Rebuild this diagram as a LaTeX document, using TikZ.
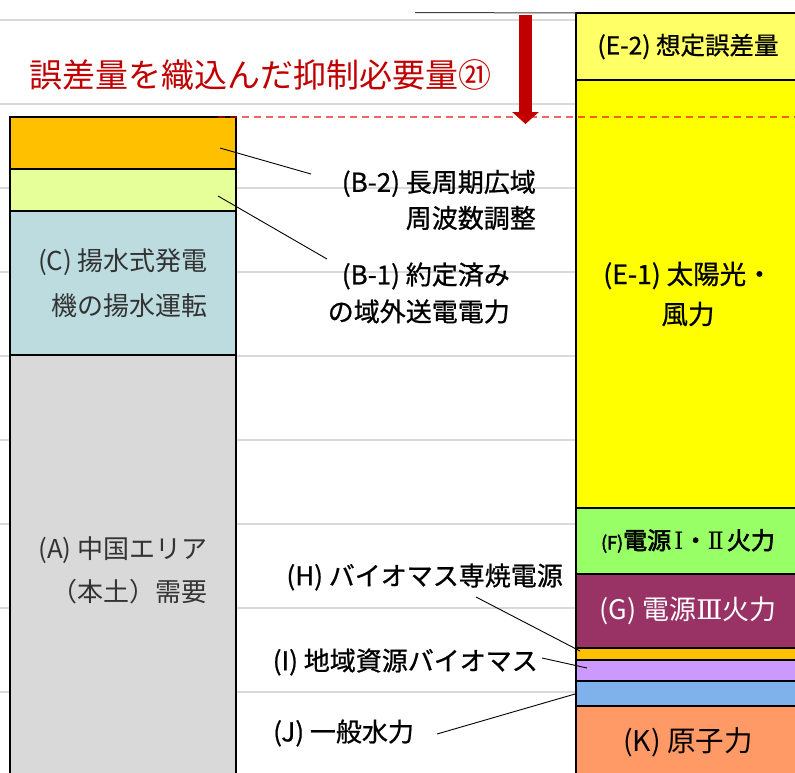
\documentclass[tikz,border=0pt]{standalone}
\usepackage{fontspec}
\setmainfont{Noto Sans CJK JP}
\newfontfamily\boldjp[FakeBold=2.5]{Noto Sans CJK JP}
\newfontfamily\medjp[FakeBold=0.8]{Noto Sans CJK JP}
\newfontfamily\numjp{DejaVu Serif}
\usepackage{xcolor}
\usetikzlibrary{arrows.meta, positioning}

\definecolor{markred}{HTML}{C00000}
\definecolor{gridgray}{HTML}{D9D9D9}
\definecolor{cBtwo}{HTML}{FFC000}
\definecolor{cBone}{HTML}{E6FF99}
\definecolor{cC}{HTML}{BCDCE0}
\definecolor{cA}{HTML}{D9D9D9}
\definecolor{cEtwo}{HTML}{FFFF66}
\definecolor{cEone}{HTML}{FFFF00}
\definecolor{cF}{HTML}{99FF66}
\definecolor{cG}{HTML}{993366}
\definecolor{cH}{HTML}{FFC000}
\definecolor{cI}{HTML}{CC99FF}
\definecolor{cJ}{HTML}{7FB2EA}
\definecolor{cK}{HTML}{FF9966}

\begin{document}
\begin{tikzpicture}[x=1pt, y=-1pt,
    band/.style={rectangle, draw=black, line width=1.8pt, inner sep=0pt, outer sep=0pt},
    leftband/.style={band, minimum width=226},
    rightband/.style={band, minimum width=224},
    lbl/.style={inner sep=0pt, font=\medjp\fontsize{26}{45}\selectfont},
    leader/.style={draw=black, line width=0.9pt},
    grid line/.style={draw=gridgray, line width=1.5pt}
  ]
  \clip (0,0) rectangle (795,772);
  \foreach \y in {20,104,...,692}
    \draw[grid line] (0,\y) -- (576,\y);

  % left column
  \node[leftband, anchor=north west, fill=cBtwo, minimum height=52] (bB2) at (10,117) {};
  \node[leftband, below=0pt of bB2, fill=cBone, minimum height=42] (bB1) {};
  \node[leftband, below=0pt of bB1, fill=cC, minimum height=144, align=right,
        text=black!80, font=\fontsize{26}{45}\selectfont] (bC) {(C) 揚水式発電\\機の揚水運転};
  \node[leftband, below=0pt of bC, fill=cA, minimum height=430, align=right,
        text=black!80, font=\fontsize{26}{43}\selectfont] (bA) {(A) 中国エリア\\（本土）需要};

  % right column
  \node[rightband, anchor=north west, fill=cEtwo, minimum height=67,
        font=\medjp\fontsize{24.5}{28}\selectfont] (bE2) at (576,13) {(E-2) 想定誤差量};
  \node[rightband, below=0pt of bE2, fill=cEone, minimum height=428, align=center,
        font=\medjp\fontsize{26.5}{40}\selectfont] (bE1) {(E-1) 太陽光・\\風力};
  \node[rightband, below=0pt of bE1, fill=cF, minimum height=66,
        font=\boldjp\fontsize{24}{28}\selectfont] (bF)
    {{\fontsize{18}{20}\selectfont(F)}電源\hspace{3pt}{\numjp Ⅰ}・{\numjp Ⅱ}\hspace{3pt}火力};
  \node[rightband, below=0pt of bF, fill=cG, minimum height=74, text=white,
        font=\fontsize{27}{30}\selectfont] (bG) {(G) 電源{\numjp Ⅲ}火力};
  \node[rightband, below=0pt of bG, fill=cH, minimum height=12] (bH) {};
  \node[rightband, below=0pt of bH, fill=cI, minimum height=21] (bI) {};
  \node[rightband, below=0pt of bI, fill=cJ, minimum height=25] (bJ) {};
  \node[rightband, below=0pt of bJ, fill=cK, minimum height=72,
        font=\fontsize{28.5}{32}\selectfont] (bK) {(K) 原子力};

  % top marks
  \coordinate (topL) at (415,12.5);
  \draw[black!75, line width=1pt] (topL) -- (bE2.north west);
  \node[inner sep=0pt, text=markred, font=\fontsize{33}{36}\selectfont] (title) at (260,75)
    {誤差量を織込んだ抑制必要量㉑};
  \coordinate (arrTop) at (525.5,15);
  \coordinate (arrTip) at (525.5,124);
  \draw[markred, line width=13pt, -{Triangle[width=26pt, length=12pt]}] (arrTop) -- (arrTip);
  \coordinate (dashL) at (218,117);
  \coordinate (dashR) at (795,117);
  \draw[red!90!black, opacity=0.6, line width=1.4pt, dash pattern=on 7pt off 5pt] (dashL) -- (dashR);

  % labels
  \node[lbl, anchor=east, align=right, font=\medjp\fontsize{26}{36}\selectfont] (lB2) at (536,200)
    {(B-2) 長周期広域\\周波数調整};
  \node[lbl, anchor=east, align=right, font=\medjp\fontsize{26}{37}\selectfont] (lB1) at (510,293)
    {(B-1) 約定済み\\の域外送電電力};
  \node[lbl, anchor=east] (lH) at (563,577) {(H) バイオマス専焼電源};
  \node[lbl, anchor=east] (lI) at (538,662) {(I) 地域資源バイオマス};
  \node[lbl, anchor=west] (lJ) at (273,733) {(J) 一般水力};

  \coordinate (pB2) at (220,148);
  \coordinate (qB2) at (311,174);
  \coordinate (pB1) at (218,196);
  \coordinate (qB1) at (327,259);
  \coordinate (pH) at (580,651);
  \coordinate (qH) at (476,597);
  \coordinate (pI) at (587,668);
  \coordinate (qI) at (542,658);
  \coordinate (pJ) at (575,694);
  \coordinate (qJ) at (437,734);
  \draw[leader] (pB2) -- (qB2);
  \draw[leader] (pB1) -- (qB1);
  \draw[leader] (qH) -- (pH);
  \draw[leader] (qI) -- (pI);
  \draw[leader] (qJ) -- (pJ);
\end{tikzpicture}
\end{document}
